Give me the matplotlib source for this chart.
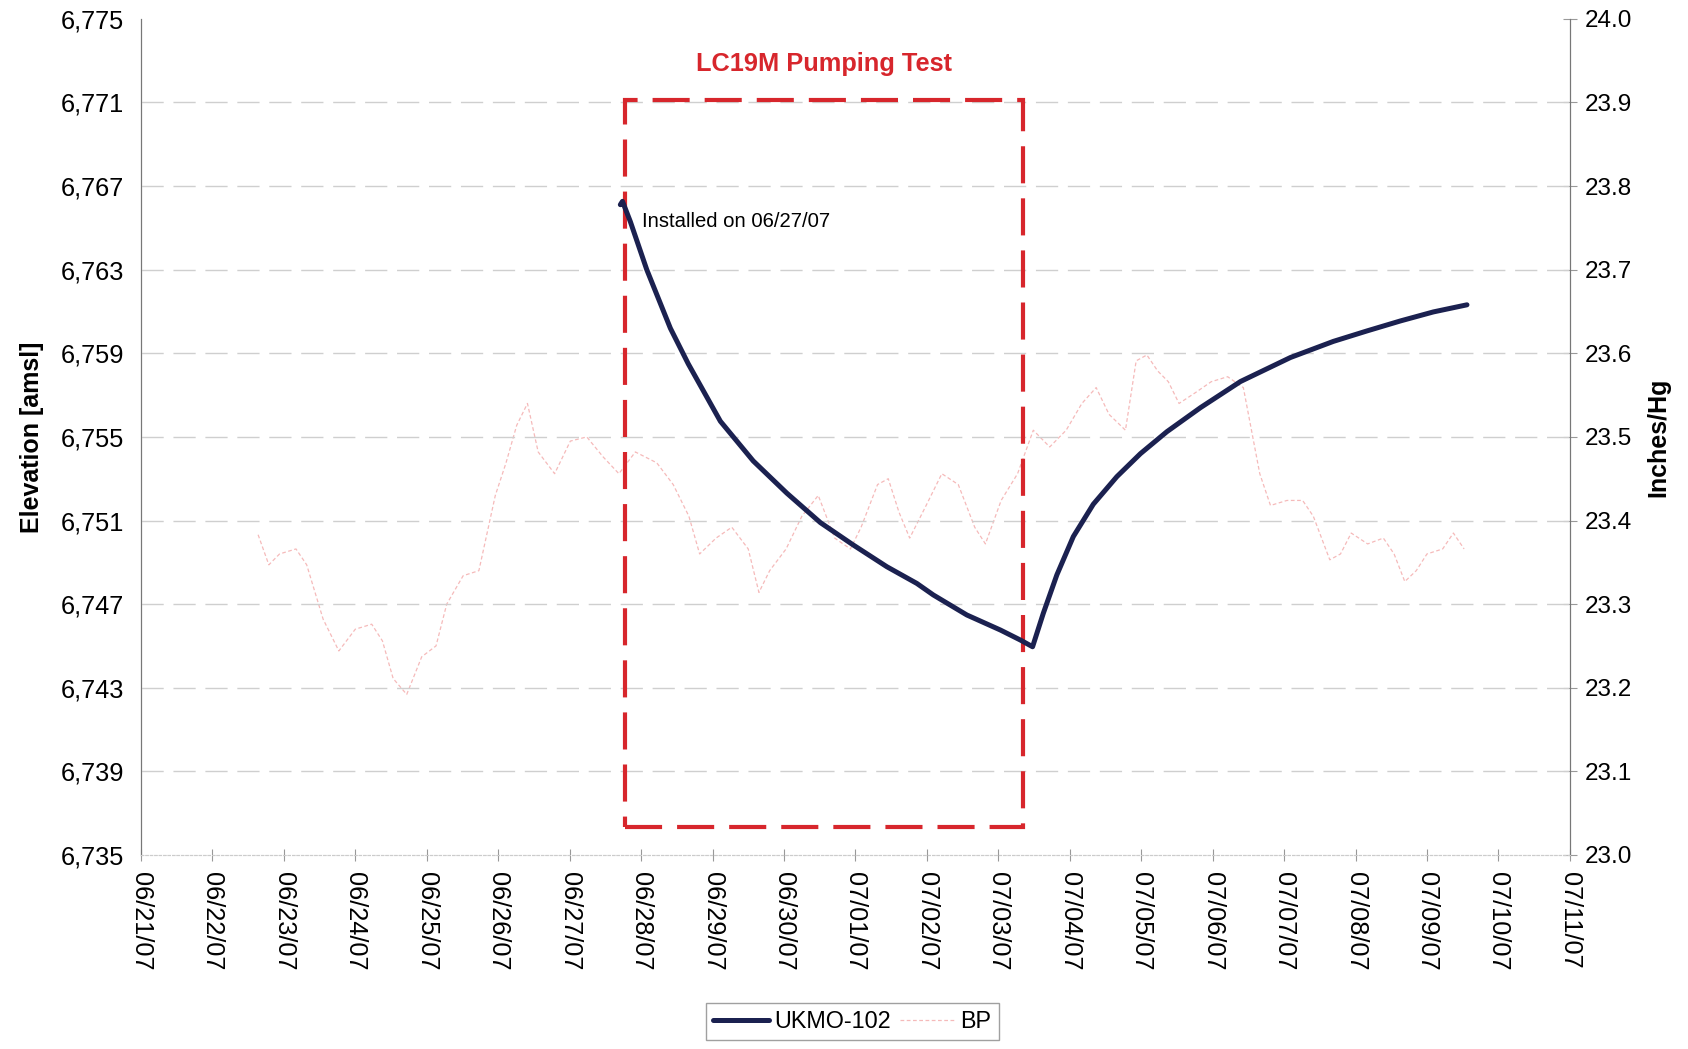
import matplotlib
matplotlib.use("Agg")
import matplotlib.pyplot as plt
from matplotlib.patches import Rectangle
from matplotlib.ticker import FuncFormatter, MultipleLocator

plt.rcParams['font.family'] = ['Liberation Sans', 'DejaVu Sans']

# x values are days after 06/21/07 00:00
date_labels = ['06/21/07', '06/22/07', '06/23/07', '06/24/07', '06/25/07', '06/26/07',
               '06/27/07', '06/28/07', '06/29/07', '06/30/07', '07/01/07', '07/02/07',
               '07/03/07', '07/04/07', '07/05/07', '07/06/07', '07/07/07', '07/08/07',
               '07/09/07', '07/10/07', '07/11/07']

elev_ticks = list(range(6735, 6776, 4))

# UKMO-102 water level elevation (ft amsl)
ukmo_days = [6.71, 6.74, 6.85, 7.08, 7.41, 7.66, 8.11, 8.57, 9.04, 9.51, 9.97,
             10.44, 10.86, 11.09, 11.56, 12.03, 12.31, 12.48, 12.63, 12.82, 13.05,
             13.33, 13.66, 13.99, 14.36, 14.83, 15.39, 16.09, 16.69, 17.16, 17.63,
             18.09, 18.56]
ukmo_elev = [6766.11, 6766.27, 6765.30, 6763.00, 6760.20, 6758.50, 6755.75, 6753.85,
             6752.31, 6750.90, 6749.83, 6748.79, 6747.99, 6747.44, 6746.48, 6745.76,
             6745.28, 6744.96, 6746.56, 6748.40, 6750.23, 6751.78, 6753.10, 6754.20,
             6755.25, 6756.40, 6757.65, 6758.80, 6759.57, 6760.07, 6760.55, 6760.98,
             6761.32]

# barometric pressure (inches Hg)
bp_days = [1.64, 1.79, 1.94, 2.17, 2.32, 2.55, 2.77, 3.00, 3.23, 3.38, 3.53, 3.72,
           3.93, 4.13, 4.28, 4.51, 4.73, 4.96, 5.11, 5.26, 5.41, 5.56, 5.79, 6.01,
           6.24, 6.47, 6.69, 6.92, 7.22, 7.45, 7.67, 7.82, 8.05, 8.27, 8.50, 8.65,
           8.80, 9.03, 9.25, 9.48, 9.71, 9.93, 10.08, 10.31, 10.46, 10.61, 10.76,
           10.99, 11.21, 11.44, 11.67, 11.82, 12.04, 12.27, 12.49, 12.72, 12.95,
           13.17, 13.37, 13.55, 13.78, 13.93, 14.08, 14.23, 14.38, 14.53, 14.76,
           14.98, 15.21, 15.43, 15.66, 15.81, 16.04, 16.26, 16.41, 16.64, 16.79,
           16.94, 17.17, 17.39, 17.54, 17.69, 17.85, 18.00, 18.22, 18.37, 18.52]
bp_vals = [23.383, 23.347, 23.360, 23.366, 23.347, 23.282, 23.244, 23.270, 23.276,
           23.256, 23.211, 23.192, 23.237, 23.250, 23.300, 23.334, 23.340, 23.430,
           23.469, 23.514, 23.540, 23.482, 23.456, 23.495, 23.500, 23.476, 23.456,
           23.482, 23.469, 23.443, 23.405, 23.360, 23.379, 23.392, 23.366, 23.314,
           23.340, 23.366, 23.405, 23.430, 23.379, 23.366, 23.392, 23.443, 23.450,
           23.410, 23.379, 23.418, 23.456, 23.443, 23.392, 23.372, 23.424, 23.456,
           23.508, 23.488, 23.508, 23.540, 23.559, 23.527, 23.508, 23.591, 23.598,
           23.579, 23.566, 23.540, 23.553, 23.566, 23.572, 23.559, 23.456, 23.418,
           23.424, 23.424, 23.405, 23.353, 23.360, 23.385, 23.372, 23.379, 23.360,
           23.327, 23.340, 23.360, 23.366, 23.385, 23.366]

# pumping test window
pump_start = 6.776
pump_end = 12.35
box_top = 6771.14
box_bottom = 6736.32

navy = '#1b2150'
red = '#d7262c'
bp_color = '#ef8c8c'

fig = plt.figure(figsize=(16.88, 10.49), dpi=100)
ax = fig.add_axes([0.0835, 0.185, 0.8465, 0.797])
ax2 = ax.twinx()

ax.set_xlim(0, 20)
ax.set_ylim(6735, 6775)
ax2.set_ylim(23.0, 24.0)

ax.set_yticks(elev_ticks)
ax.yaxis.set_major_formatter(FuncFormatter(lambda v, p: f'{v:,.0f}'))
ax2.yaxis.set_major_locator(MultipleLocator(0.1))
ax2.yaxis.set_major_formatter(FuncFormatter(lambda v, p: f'{v:.1f}'))
ax.set_xticks(range(len(date_labels)))
ax.set_xticklabels(date_labels, rotation=-90, fontsize=18.3)

# horizontal gridlines (faint, broken)
for yv in elev_ticks[1:-1]:
    ax.axhline(yv, color='#cfcfcf', lw=1.0, ls=(0, (16, 7)), zorder=0)

bp_line, = ax2.plot(bp_days, bp_vals, color=bp_color, lw=0.9, ls=(0, (3, 2)),
                    alpha=0.6, label='BP')
ukmo_line, = ax.plot(ukmo_days, ukmo_elev, color=navy, lw=3.6,
                     solid_capstyle='round', solid_joinstyle='round', label='UKMO-102', zorder=4)

ax.add_patch(Rectangle((pump_start, box_bottom), pump_end - pump_start, box_top - box_bottom,
                       fill=False, edgecolor=red, lw=3, ls=(0, (8.9, 3.6)), zorder=3))
ax.text((pump_start + pump_end) / 2, 6772.82, 'LC19M Pumping Test', color=red,
        fontsize=18.3, fontweight='bold', ha='center', va='center')
ax.text(7.01, 6765.3, 'Installed on 06/27/07', fontsize=14.6, ha='left', va='center')

ax.set_zorder(ax2.get_zorder() + 1)
ax.patch.set_visible(False)

for a in (ax, ax2):
    a.spines['top'].set_visible(False)
    a.spines['left'].set_color('#777777')
    a.spines['right'].set_color('#777777')
    a.spines['bottom'].set_color('#cccccc')
    a.spines['bottom'].set_linestyle((0, (2, 2)))

ax.tick_params(axis='y', labelsize=18.3, length=0, pad=12)
ax2.tick_params(axis='y', labelsize=17.5, direction='inout', length=10, color='#999999', pad=6)
ax.tick_params(axis='x', direction='inout', length=8, color='#999999', pad=8)

ax.set_ylabel('Elevation [amsl]', fontsize=18, fontweight='bold', labelpad=12)
ax2.set_ylabel('Inches/Hg', fontsize=18, fontweight='bold', labelpad=10)

fig.legend(handles=[ukmo_line, bp_line], labels=['UKMO-102', 'BP'], loc='center',
           bbox_to_anchor=(0.505, 0.026), ncol=2, fontsize=16.8, frameon=True,
           fancybox=False, edgecolor='#888888', handlelength=2.4, handletextpad=0.2,
           columnspacing=0.4, borderpad=0.3)

fig.savefig('out.png', dpi=100)
